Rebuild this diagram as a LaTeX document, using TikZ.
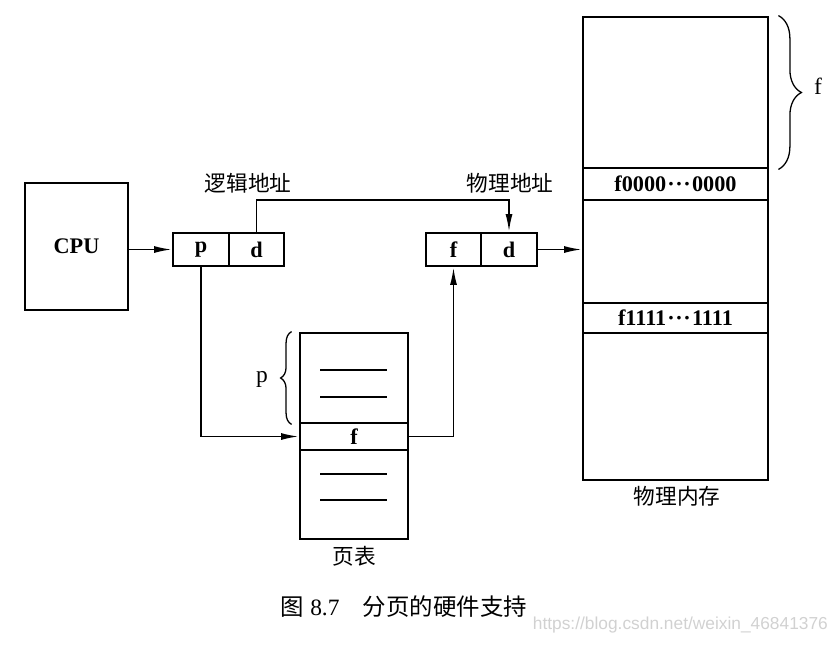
\documentclass[tikz,border=0pt]{standalone}
\usepackage{fontspec}
\setmainfont{Liberation Serif}
\newfontfamily\cjk{Noto Sans CJK SC}
\newfontfamily\wmfont{Liberation Sans}
\usetikzlibrary{arrows.meta,decorations.pathreplacing,calc}
\newcommand\px{0.03cm}
\newcommand\middots{\kern1pt·\kern0.5pt·\kern0.5pt·\kern1pt}
\begin{document}
\begin{tikzpicture}[x=0.03cm, y=-0.03cm,
    box/.style={draw, line width=2.4pt, inner sep=0pt, font=\fontsize{19}{22}\selectfont\bfseries},
    wire/.style={line width=1.4pt},
    arr/.style={wire, -{Latex[length=15pt,width=6pt]}},
    lbl/.style={font=\fontsize{18.5}{22}\selectfont\cjk},
    bar/.style={line width=2pt},
    curly/.style={decorate, line width=1.1pt}]
    \useasboundingbox (0,0) rectangle (839,645);
    \node[box, minimum width=103*\px, minimum height=127*\px] (cpu) at (76.5,246.5) {CPU};
    \node[box, minimum width=56*\px, minimum height=33*\px] (la-p) at (201,249.5) {p};
    \node[box, minimum width=55*\px, minimum height=33*\px] (la-d) at (256.5,249.5) {d};
    \node[box, minimum width=55*\px, minimum height=33*\px] (pa-f) at (453.5,249.5) {f};
    \node[box, minimum width=56*\px, minimum height=33*\px] (pa-d) at (509,249.5) {d};
    \node[lbl] (la-lbl) at (248,183) {逻辑地址};
    \node[lbl] (pa-lbl) at (510,183) {物理地址};
    \node[box, minimum width=108*\px, minimum height=90*\px] (pt-a) at (354,378) {};
    \node[box, minimum width=108*\px, minimum height=27*\px] (pt-f) at (354,436.5) {f};
    \node[box, minimum width=108*\px, minimum height=89*\px] (pt-b) at (354,494.5) {};
    \draw[bar] (320,370) -- (387,370);
    \draw[bar] (320,397) -- (387,397);
    \draw[bar] (320,474) -- (387,474);
    \draw[bar] (320,500) -- (387,500);
    \node[lbl] (pt-lbl) at (354,556) {页表};
    \node[box, minimum width=185*\px, minimum height=151*\px] (mem-a) at (675.5,92.5) {};
    \node[box, minimum width=185*\px, minimum height=32*\px] (mem-f0) at (675.5,184) {f0000\middots0000};
    \node[box, minimum width=185*\px, minimum height=103*\px] (mem-b) at (675.5,251.5) {};
    \node[box, minimum width=185*\px, minimum height=30*\px] (mem-f1) at (675.5,318) {f1111\middots1111};
    \node[box, minimum width=185*\px, minimum height=147*\px] (mem-c) at (675.5,406.5) {};
    \node[lbl] (mem-lbl) at (677,496) {物理内存};
    \coordinate (over) at (0,200);
    \draw[arr] (la-p.west -| cpu.east) -- (la-p.west);
    \draw[arr] (la-d.north) -- (la-d.north |- over) -| (pa-d.north);
    \draw[arr] (pa-d.east) -- (pa-d.east -| mem-b.west);
    \draw[arr] (la-p.south) |- (pt-f.west);
    \draw[arr] (pt-f.east) -| (pa-f.south);
    \draw[curly, decoration={brace, amplitude=0.33cm}] ($(pt-a.south west)+(-7,0)$) -- ($(pt-a.north west)+(-7,0)$);
    \node[font=\fontsize{20}{22}\selectfont] (p-lbl) at (262,379) {p};
    \draw[curly, decoration={brace, amplitude=0.69cm}] ($(mem-a.north east)+(9,0)$) -- ($(mem-a.south east)+(9,0)$);
    \node[font=\fontsize{20}{22}\selectfont] (f-lbl) at (818,86) {f};
    \node[font=\fontsize{20}{24}\selectfont] (cap) at (404,607) {{\cjk 图} 8.7\quad{\cjk 分页的硬件支持}};
    \node[font=\fontsize{14.8}{17}\selectfont\wmfont, text=black!18, anchor=east] (wm) at (832,625) {https://blog.csdn.net/weixin\_46841376};
\end{tikzpicture}
\end{document}
